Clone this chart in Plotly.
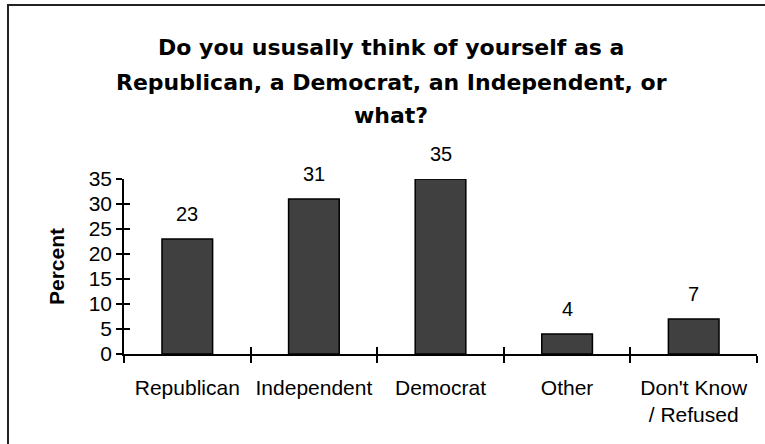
import plotly.graph_objects as go

categories = ["Republican", "Independent", "Democrat", "Other", "Don't Know<br>/ Refused"]
percent = [23, 31, 35, 4, 7]
y_ticks = [0, 5, 10, 15, 20, 25, 30, 35]
title_lines = ["Do you ususally think of yourself as a",
               "Republican, a Democrat, an Independent, or",
               "what?"]

FONT = "Liberation Sans, Arial, sans-serif"
TFONT = "DejaVu Sans, Liberation Sans, Arial, sans-serif"
W, H = 765, 444
L, R, T, B = 124, 8, 179, 90
pw, ph = W - L - R, H - T - B

def px_x(p):
    return (p - L) / pw

def px_y(p):
    return (H - B - p) / ph

fig = go.Figure()
fig.add_trace(go.Bar(
    x=categories, y=percent,
    marker=dict(color="#404040", line=dict(color="#000000", width=1.5)),
    width=0.4, hoverinfo="skip", showlegend=False,
))
# invisible trace to carry the overlay axes (cross ticks)
fig.add_trace(go.Scatter(
    x=categories, y=percent, xaxis="x2", yaxis="y2",
    mode="markers", marker=dict(opacity=0), hoverinfo="skip", showlegend=False,
))

for c, v in zip(categories, percent):
    fig.add_annotation(x=c, y=v, text=str(v), showarrow=False,
                       yanchor="bottom", yshift=12,
                       font=dict(family=FONT, size=20, color="#000"))

title_y = [48, 82, 115]
for line, yy in zip(title_lines, title_y):
    fig.add_annotation(xref="paper", yref="paper", x=px_x(391), y=px_y(yy),
                       text="<b>" + line + "</b>", showarrow=False,
                       xanchor="center", yanchor="middle",
                       font=dict(family=TFONT, size=22, color="#000"))

fig.add_shape(type="rect", xref="paper", yref="paper",
              x0=px_x(8), x1=px_x(790), y0=px_y(470), y1=px_y(5),
              line=dict(color="#222222", width=2), fillcolor="rgba(0,0,0,0)",
              layer="above")

fig.update_layout(
    width=W, height=H,
    margin=dict(l=L, r=R, t=T, b=B, pad=0),
    paper_bgcolor="white", plot_bgcolor="white",
    font=dict(family=FONT, size=21, color="#000"),
    bargap=0.6,
    xaxis=dict(
        type="category", range=[-0.5, 4.5],
        showline=True, linecolor="#000", linewidth=1.5,
        ticks="outside", ticklen=7, tickwidth=1.5, tickcolor="#000",
        tickson="boundaries", showgrid=False, zeroline=False,
        tickfont=dict(family=FONT, size=21, color="#000"),
        ticklabelstandoff=14,
    ),
    yaxis=dict(
        range=[0, 35], tickvals=y_ticks,
        showline=True, linecolor="#000", linewidth=1.5,
        ticks="outside", ticklen=6, tickwidth=1.5, tickcolor="#000",
        showgrid=False, zeroline=False,
        tickfont=dict(family=FONT, size=21, color="#000"),
        title=dict(text="<b>Percent</b>", font=dict(family=FONT, size=21, color="#000"),
                   standoff=18),
    ),
    xaxis2=dict(
        type="category", range=[-0.5, 4.5], overlaying="x", anchor="y2",
        categoryarray=categories, categoryorder="array",
        ticks="inside", ticklen=7, tickwidth=1.5, tickcolor="#000",
        tickson="boundaries", showticklabels=False, showgrid=False,
        showline=False, zeroline=False, side="bottom",
    ),
    yaxis2=dict(
        range=[0, 35], tickvals=y_ticks, overlaying="y", anchor="x2",
        ticks="inside", ticklen=6, tickwidth=1.5, tickcolor="#000",
        showticklabels=False, showgrid=False, showline=False, zeroline=False,
        side="left",
    ),
)

fig.write_html("out.html", config={"displayModeBar": False},
               post_script="document.body.style.margin='0';")
